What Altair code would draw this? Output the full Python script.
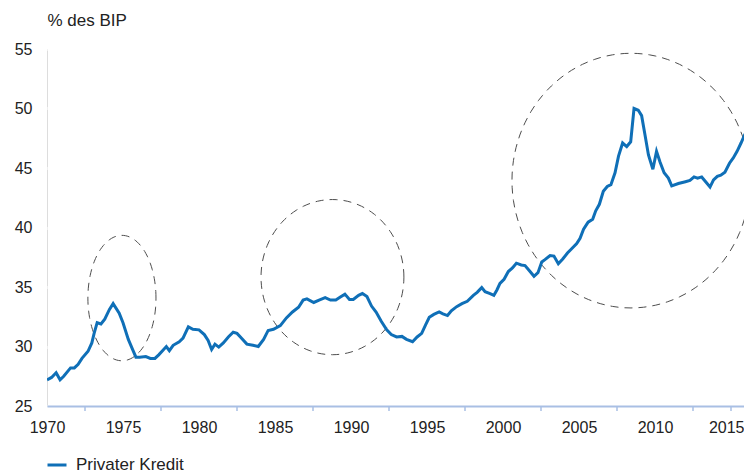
import altair as alt
import numpy as np
import pandas as pd

# ---- data ----
series_name = "Privater Kredit"
years = [
    1970.00, 1970.30, 1970.60, 1970.86, 1971.10, 1971.55, 1971.80, 1972.05, 1972.30, 1972.70,
    1972.95, 1973.10, 1973.30, 1973.55, 1973.80, 1974.10, 1974.35, 1974.75, 1975.00, 1975.35,
    1975.65, 1975.85, 1976.10, 1976.50, 1976.80, 1977.10, 1977.35, 1977.60, 1977.85, 1978.05,
    1978.30, 1978.70, 1978.95, 1979.30, 1979.60, 1980.00, 1980.35, 1980.60, 1980.83, 1981.05,
    1981.30, 1981.60, 1981.93, 1982.25, 1982.50, 1982.80, 1983.15, 1983.55, 1983.90, 1984.25,
    1984.55, 1984.90, 1985.35, 1985.75, 1986.15, 1986.55, 1986.85, 1987.10, 1987.55, 1987.90,
    1988.30, 1988.65, 1989.00, 1989.30, 1989.60, 1989.90, 1990.15, 1990.50, 1990.75, 1991.05,
    1991.35, 1991.65, 1992.00, 1992.35, 1992.65, 1993.00, 1993.35, 1993.65, 1994.05, 1994.35,
    1994.65, 1994.90, 1995.15, 1995.45, 1995.80, 1996.05, 1996.35, 1996.60, 1996.95, 1997.30,
    1997.65, 1998.05, 1998.30, 1998.60, 1998.82, 1999.15, 1999.40, 1999.60, 1999.80, 2000.07,
    2000.35, 2000.62, 2000.88, 2001.20, 2001.45, 2001.78, 2002.04, 2002.30, 2002.55, 2002.76,
    2003.10, 2003.35, 2003.64, 2003.93, 2004.24, 2004.50, 2004.85, 2005.07, 2005.30, 2005.60,
    2005.90, 2006.10, 2006.34, 2006.60, 2006.86, 2007.10, 2007.37, 2007.60, 2007.87, 2008.14,
    2008.40, 2008.62, 2008.90, 2009.12, 2009.34, 2009.57, 2009.86, 2010.10, 2010.33, 2010.60,
    2010.88, 2011.10, 2011.54, 2012.00, 2012.30, 2012.57, 2012.80, 2013.07, 2013.36, 2013.62,
    2013.85, 2014.10, 2014.33, 2014.60, 2014.90, 2015.15, 2015.40, 2015.66, 2015.90, 2016.14,
]
values = [
    27.2, 27.4, 27.8, 27.2, 27.5, 28.2, 28.2, 28.5, 29.0, 29.6,
    30.3, 31.1, 32.0, 31.9, 32.3, 33.1, 33.6, 32.8, 32.0, 30.6,
    29.7, 29.1, 29.1, 29.15, 29.0, 29.0, 29.3, 29.65, 30.0, 29.65,
    30.1, 30.4, 30.7, 31.65, 31.45, 31.4, 31.0, 30.5, 29.75, 30.2,
    29.95, 30.3, 30.8, 31.2, 31.1, 30.7, 30.2, 30.1, 30.0, 30.6,
    31.35, 31.45, 31.75, 32.4, 32.9, 33.3, 33.9, 34.0, 33.7, 33.9,
    34.1, 33.9, 33.9, 34.15, 34.4, 33.95, 33.95, 34.3, 34.45, 34.2,
    33.4, 32.9, 32.1, 31.4, 31.0, 30.8, 30.85, 30.6, 30.4, 30.8,
    31.1, 31.8, 32.45, 32.7, 32.9, 32.75, 32.6, 33.0, 33.35, 33.6,
    33.8, 34.3, 34.55, 34.95, 34.6, 34.45, 34.3, 34.75, 35.3, 35.65,
    36.3, 36.6, 37.0, 36.85, 36.8, 36.3, 35.9, 36.2, 37.1, 37.3,
    37.65, 37.6, 36.95, 37.35, 37.85, 38.2, 38.65, 39.1, 39.85, 40.45,
    40.7, 41.4, 41.95, 43.05, 43.45, 43.6, 44.6, 46.0, 47.1, 46.8,
    47.2, 50.0, 49.85, 49.4, 47.8, 46.1, 44.9, 46.4, 45.5, 44.6,
    44.15, 43.5, 43.7, 43.85, 43.95, 44.25, 44.15, 44.25, 43.8, 43.4,
    44.0, 44.3, 44.4, 44.65, 45.4, 45.85, 46.4, 47.1, 47.8, 48.2,
]
y_ticks = [25, 30, 35, 40, 45, 50, 55]
x_labels = [1970, 1975, 1980, 1985, 1990, 1995, 2000, 2005, 2010, 2015]
x_minor_ticks = [1972.5, 1977.5, 1982.5, 1987.5, 1992.5, 1997.5, 2002.5, 2007.5, 2012.5, 2015]
y_title = "% des BIP"

# highlighted episodes (ellipses, in data units)
ell_names = ["1970er", "1980er", "2000er"]
ell_center_year = [1974.93, 1988.78, 2008.42]
ell_center_value = [34.07, 35.83, 43.94]
ell_radius_years = [2.24, 4.70, 7.83]
ell_radius_value = [5.27, 6.52, 10.70]

# ---- tables ----
df = pd.DataFrame({"year": years, "value": values, "series": series_name})
ticks_df = pd.DataFrame({"year": x_minor_ticks})

angles = np.linspace(0, 2 * np.pi, 121)
rows = []
for n, cx, cy, rx, ry in zip(ell_names, ell_center_year, ell_center_value,
                             ell_radius_years, ell_radius_value):
    for i, a in enumerate(angles):
        rows.append({"name": n, "i": i,
                     "year": cx + rx * np.cos(a), "value": cy + ry * np.sin(a)})
ell_df = pd.DataFrame(rows)

W, H = 697, 357
PX_PER_YEAR = 15.2
xscale = alt.Scale(domain=[1970, 1970 + W / PX_PER_YEAR], nice=False, zero=False)
yscale = alt.Scale(domain=[25, 55], nice=False, zero=False)

FONT = "Liberation Sans"
TXT = "#222222"
AXIS_BLUE = "#a9bfe4"
last_label = x_labels[-1]

x_axis = alt.Axis(values=x_labels, format="d", title=None, ticks=False, grid=False,
                  labelFontSize=16, labelColor=TXT, labelPadding=13, labelFlush=False,
                  labelOverlap=False, labelBound=False,
                  labelAlign={"condition": {"test": f"datum.value == {last_label}", "value": "right"},
                              "value": "center"},
                  labelOffset={"condition": {"test": f"datum.value == {last_label}", "value": 13},
                               "value": 0},
                  domainColor=AXIS_BLUE, domainWidth=2)
y_axis = alt.Axis(values=y_ticks, title=y_title, ticks=False, domain=False, grid=True,
                  gridColor="white", gridWidth=3, labelFontSize=16, labelColor=TXT,
                  labelPadding=15, labelFlush=False,
                  titleAngle=0, titleAlign="left", titleBaseline="middle",
                  titleX=0, titleY=-29, titleFontSize=17, titleFontWeight="normal",
                  titleColor=TXT)

line = alt.Chart(df).mark_line(strokeWidth=3, clip=True).encode(
    x=alt.X("year:Q", scale=xscale, axis=x_axis),
    y=alt.Y("value:Q", scale=yscale, axis=y_axis),
    color=alt.Color("series:N",
                    scale=alt.Scale(domain=[series_name], range=["#0f6fb7"]),
                    legend=alt.Legend(title=None, orient="none", legendX=-1, legendY=405,
                                      direction="horizontal", symbolType="stroke",
                                      symbolSize=361, symbolStrokeWidth=3,
                                      labelFontSize=17, labelColor=TXT, labelOffset=8,
                                      padding=0)),
)

ellipses = alt.Chart(ell_df).mark_line(strokeWidth=1, strokeDash=[8, 6], clip=True,
                                       color="#4d4d4d").encode(
    x=alt.X("year:Q", scale=xscale),
    y=alt.Y("value:Q", scale=yscale),
    detail="name:N",
    order="i:Q",
)

minor = alt.Chart(ticks_df).mark_rule(color=AXIS_BLUE, strokeWidth=1.5).encode(
    x=alt.X("year:Q", scale=xscale),
    y=alt.value(H),
    y2=alt.value(H + 5),
)

chart = alt.layer(minor, ellipses, line).properties(
    width=W, height=H,
    autosize=alt.AutoSizeParams(type="none"),
    padding={"left": 39, "top": 41, "right": 0, "bottom": 67},
).configure_view(fill="#e0e7f4", stroke=None).configure(font=FONT)

chart.save("out.html", embed_options={"renderer": "svg", "actions": False})
